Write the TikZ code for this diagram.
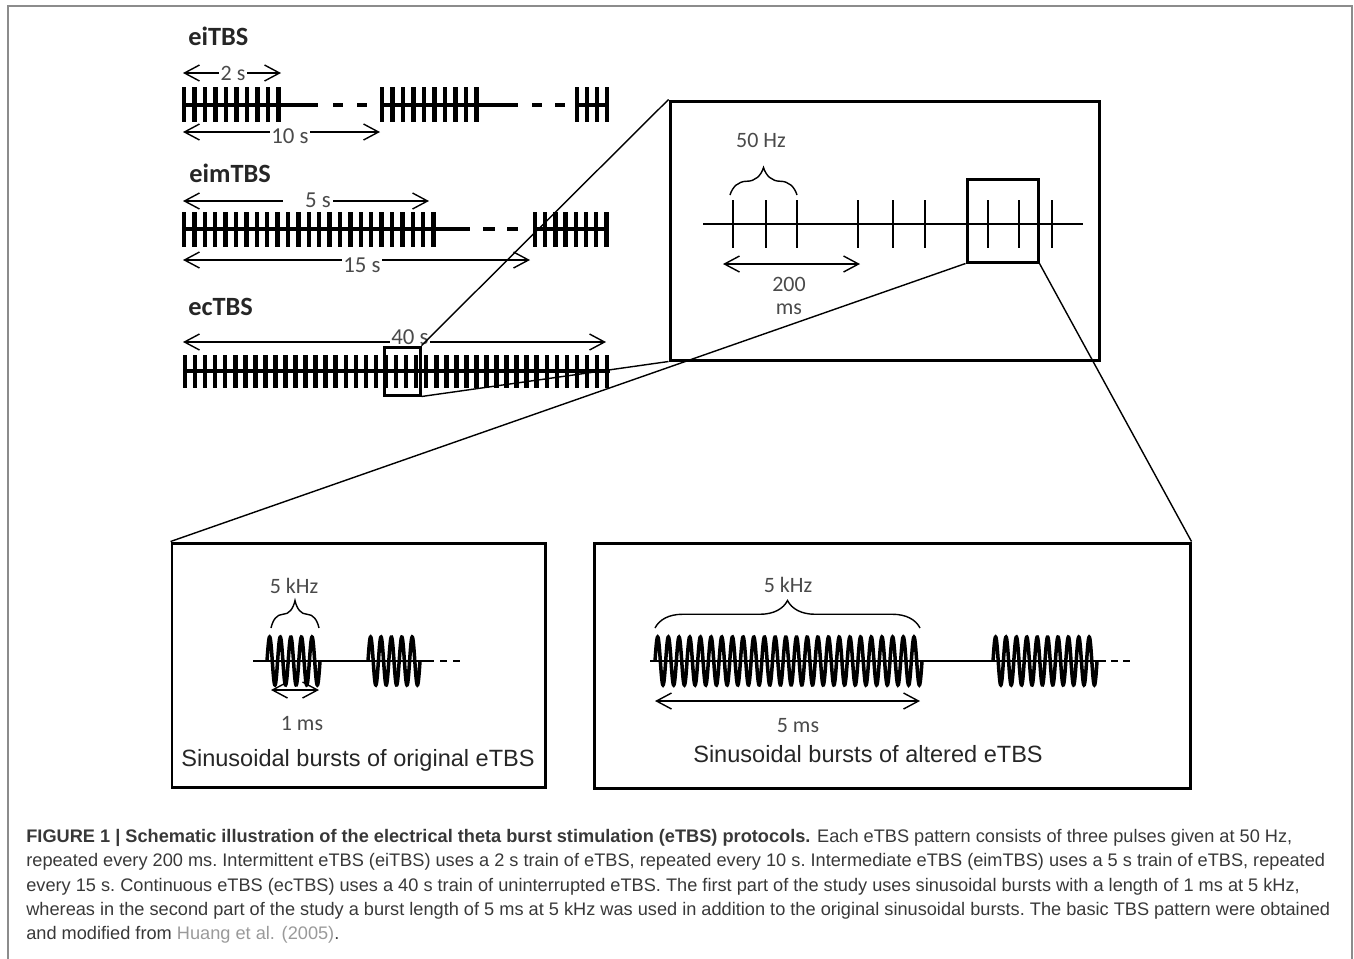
\documentclass[tikz,border=0pt]{standalone}
\usepackage{fontspec}
\setmainfont{Carlito}
\newfontfamily\arialfont{Liberation Sans}
\usetikzlibrary{arrows.meta,decorations.pathreplacing,fit}

\definecolor{labelgray}{HTML}{4A4A4A}
\definecolor{framegray}{HTML}{8C8C8C}
\definecolor{refgray}{HTML}{9A9A9A}
\definecolor{captext}{HTML}{383838}

\begin{document}
\begin{tikzpicture}[x=0.02cm, y=-0.02cm,
    proto/.style = {anchor=west, inner sep=0pt, text=black!85, font=\bfseries\fontsize{15}{17}\selectfont},
    dim/.style = {line width=0.8pt, {Straight Barb[length=3mm,width=3.2mm]}-{Straight Barb[length=3mm,width=3.2mm]}},
    dimlbl/.style = {fill=white, inner sep=1pt, text=labelgray, font=\fontsize{12.5}{14}\selectfont},
    biglbl/.style = {dimlbl, font=\fontsize{13}{15}\selectfont},
    plainlbl/.style = {inner sep=0pt, text=labelgray, font=\fontsize{12.5}{14}\selectfont},
    train/.style = {line width=2.2pt},
    pulse/.style = {line width=2.6pt},
    tick/.style = {line width=1.4pt},
    wave/.style = {line width=2pt},
    brace/.style = {line width=0.8pt, decorate, decoration={brace, amplitude=0.55cm}},
    zoombox/.style = {draw, line width=1.7pt, inner sep=0pt},
    zoomline/.style = {line width=0.8pt},
    sinus/.style = {inner sep=0pt, text=black!85, font=\arialfont\fontsize{13.4}{15}\selectfont}
]
\useasboundingbox (0,0) rectangle (1354,958);
% figure frame
\draw[framegray, line width=0.9pt] (8,970) -- (8,6) -- (1352,6) -- (1352,970);

% ---- eiTBS ----
\node[proto] (ei) at (188,36) {eiTBS};
\draw[train] (183,105) -- (318,105);
\draw[train] (333,105) -- (343,105);
\draw[train] (357,105) -- (367,105);
\draw[train] (380,105) -- (518,105);
\draw[train] (532,105) -- (542,105);
\draw[train] (555,105) -- (565,105);
\draw[train] (575,105) -- (607,105);
\foreach \i in {0,...,9} {
  \draw[pulse] ({184+10.5*\i},87) -- ++(0,35);
  \draw[pulse] ({382+10.5*\i},87) -- ++(0,35);
}
\foreach \i in {0,...,3}
  \draw[pulse] ({577+10*\i},87) -- ++(0,35);
\coordinate (ei2L) at (183,73);
\coordinate (ei2R) at (281,73);
\coordinate (ei10L) at (183,132);
\coordinate (ei10R) at (380,132);
\draw[dim] (ei2L) -- (ei2R);
\draw[dim] (ei10L) -- (ei10R);
\node[dimlbl] (ei2) at (233,73) {2 s};
\node[biglbl] (ei10) at (290,136) {10 s};

% ---- eimTBS ----
\node[proto] (eim) at (189,173) {eimTBS};
\draw[train] (183,229) -- (470,229);
\draw[train] (483,229) -- (495,229);
\draw[train] (507,229) -- (518,229);
\draw[train] (533,229) -- (607,229);
\foreach \i in {0,...,24}
  \draw[pulse] ({184+10.4*\i},212) -- ++(0,35);
\foreach \i in {0,...,7}
  \draw[pulse] ({535+10.2*\i},212) -- ++(0,35);
\coordinate (eim5L) at (183,201);
\coordinate (eim5R) at (429,201);
\coordinate (eim15L) at (183,260);
\coordinate (eim15R) at (530,260);
\draw[dim] (eim5L) -- (eim5R);
\draw[dim] (eim15L) -- (eim15R);
\node[biglbl] (eim5) at (308,200) {\hspace{4mm}5 s\hspace{4mm}};
\node[biglbl] (eim15) at (362,265) {15 s};

% ---- ecTBS ----
\node[proto] (ec) at (188,307) {ecTBS};
\draw[train] (183,371) -- (610,371);
\foreach \i in {0,...,42}
  \draw[pulse] ({185+10.05*\i},355) -- ++(0,33);
\coordinate (ec40L) at (183,342);
\coordinate (ec40R) at (606,342);
\draw[dim] (ec40L) -- (ec40R);
\node[biglbl] (ec40) at (410,337) {40 s};
\node[zoombox, fit={(384,347) (420,395)}] (ecbox) {};

% ---- burst pattern (top right) ----
\node[zoombox, fit={(670,101) (1099,360)}] (pattern) {};
\draw[tick] (703,224) -- (1083,224);
\foreach \x in {733,766,797,858,893,925,988,1019,1052}
  \draw[tick] (\x,200) -- (\x,248);
\draw[brace] (730,195) -- (797,195);
\node[plainlbl] (hz50) at (761,140) {50 Hz};
\coordinate (p200L) at (723,264);
\coordinate (p200R) at (860,264);
\draw[dim] (p200L) -- (p200R);
\node[plainlbl] (ms200) at (789,284) {200};
\node[plainlbl] (ms200b) at (789,309) {ms};
\node[zoombox, fit={(967,179) (1038,262)}] (pulsebox) {};

% ---- original bursts (bottom left) ----
\node[zoombox, fit={(172,543) (545,787)}] (orig) {};
\draw[tick] (253,661) -- (434,661);
\draw[tick] (440,661) -- (447,661);
\draw[tick] (453,661) -- (460,661);
\draw[wave] plot[domain=0:1800, samples=200] ({267+\x/360*10.6}, {661-24*sin(\x)});
\draw[wave] plot[domain=0:1800, samples=200] ({368+\x/360*10.4}, {661-24*sin(\x)});
\draw[brace] (271,628) -- (319,628);
\node[plainlbl] (khzA) at (294,586) {5 kHz};
\coordinate (o1L) at (271,690);
\coordinate (o1R) at (319,690);
\draw[dim] (o1L) -- (o1R);
\node[plainlbl] (ms1) at (302,723) {1 ms};
\node[sinus] (origtxt) at (358,760) {Sinusoidal bursts of original eTBS};

% ---- altered bursts (bottom right) ----
\node[zoombox, fit={(594,543) (1190,788)}] (alt) {};
\draw[tick] (650,661) -- (1106,661);
\draw[tick] (1111,661) -- (1118,661);
\draw[tick] (1123,661) -- (1130,661);
\draw[wave] plot[domain=0:9000, samples=900] ({655+\x/360*10.68}, {661-24*sin(\x)});
\draw[wave] plot[domain=0:3600, samples=400] ({993+\x/360*10.4}, {661-24*sin(\x)});
\draw[brace] (655,628) -- (920,628);
\node[plainlbl] (khzB) at (788,585) {5 kHz};
\coordinate (a5L) at (655,701);
\coordinate (a5R) at (920,701);
\draw[dim] (a5L) -- (a5R);
\node[plainlbl] (ms5) at (798,726) {5 ms};
\node[sinus] (alttxt) at (868,754) {Sinusoidal bursts of altered eTBS};

% ---- zoom lines ----
\draw[zoomline] (ecbox.north east) -- (pattern.north west);
\draw[zoomline] (ecbox.south east) -- (pattern.south west);
\draw[zoomline] (orig.north west) -- (pulsebox.south west);
\draw[zoomline] (alt.north east) -- (pulsebox.south east);

% ---- caption ----
\node[anchor=north west, inner sep=0pt, align=left, text=captext,
      font=\arialfont\fontsize{10.35}{13.8}\selectfont] (caption) at (26,829)
  {\textbf{FIGURE 1 | Schematic illustration of the electrical theta burst stimulation (eTBS) protocols.} Each eTBS pattern consists of three pulses given at 50 Hz,\\
   repeated every 200 ms.\ Intermittent eTBS (eiTBS) uses a 2 s train of eTBS, repeated every 10 s.\ Intermediate eTBS (eimTBS) uses a 5 s train of eTBS, repeated\\
   every 15 s.\ Continuous eTBS (ecTBS) uses a 40 s train of uninterrupted eTBS.\ The first part of the study uses sinusoidal bursts with a length of 1 ms at 5 kHz,\\
   whereas in the second part of the study a burst length of 5 ms at 5 kHz was used in addition to the original sinusoidal bursts.\ The basic TBS pattern were obtained\\
   and modified from {\color{refgray}Huang et al. (2005)}.};
\end{tikzpicture}
\end{document}
